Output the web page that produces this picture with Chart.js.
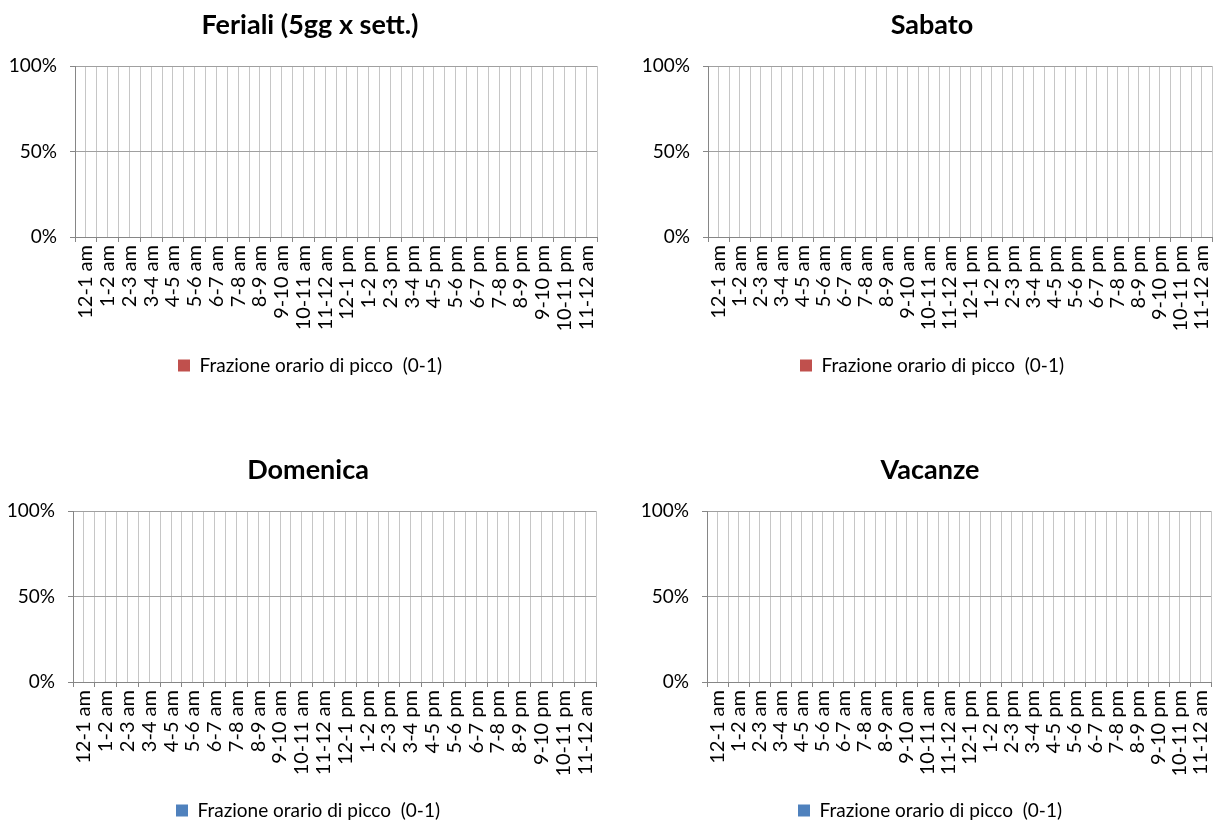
<!DOCTYPE html>
<html>
<head>
<meta charset="utf-8">
<script src="https://cdn.jsdelivr.net/npm/chart.js@4/dist/chart.umd.min.js"></script>
<style>
  html, body { margin: 0; padding: 0; background: #fff; overflow: hidden; width: 1217px; height: 822px; position: relative; }
  canvas { position: absolute; }
</style>
</head>
<body>
<canvas id="c0"></canvas>
<canvas id="c1"></canvas>
<canvas id="c2"></canvas>
<canvas id="c3"></canvas>
<script>
// Fasce orarie (asse delle categorie)
const fasceOrarie = ['12-1 am', '1-2 am', '2-3 am', '3-4 am', '4-5 am', '5-6 am', '6-7 am', '7-8 am',
  '8-9 am', '9-10 am', '10-11 am', '11-12 am', '12-1 pm', '1-2 pm', '2-3 pm', '3-4 pm', '4-5 pm',
  '5-6 pm', '6-7 pm', '7-8 pm', '8-9 pm', '9-10 pm', '10-11 pm', '11-12 am'];

// Tacche dell'asse verticale (frazione 0-1)
const tacchePercentuali = [0, 0.5, 1];

// Frazione orario di picco per fascia oraria
const feriali = [0, 0, 0, 0, 0, 0, 0, 0, 0, 0, 0, 0, 0, 0, 0, 0, 0, 0, 0, 0, 0, 0, 0, 0];
const sabato = [0, 0, 0, 0, 0, 0, 0, 0, 0, 0, 0, 0, 0, 0, 0, 0, 0, 0, 0, 0, 0, 0, 0, 0];
const domenica = [0, 0, 0, 0, 0, 0, 0, 0, 0, 0, 0, 0, 0, 0, 0, 0, 0, 0, 0, 0, 0, 0, 0, 0];
const vacanze = [0, 0, 0, 0, 0, 0, 0, 0, 0, 0, 0, 0, 0, 0, 0, 0, 0, 0, 0, 0, 0, 0, 0, 0];

const titoli = ['Feriali (5gg x sett.)', 'Sabato', 'Domenica', 'Vacanze'];
const nomeSerie = 'Frazione orario di picco  (0-1)';

const ROSSO = '#C0504D';
const BLU = '#4F81BD';
const ASSE = '#868686';
const GRIGLIA_H = '#a0a0a0';
const GRIGLIA_V = '#c6c6c6';
const FONT = 'Lato, "Open Sans", sans-serif';

// w: larghezza del canvas; yw: larghezza asse verticale; spazio: margine a destra dell'area del grafico
const pannelli = [
  { id: 'c0', left: 0,   top: 0,   w: 620, h: 385, yw: 75, spazio: 23, dati: feriali,  colore: ROSSO, titolo: titoli[0] },
  { id: 'c1', left: 608, top: 0,   w: 648, h: 385, yw: 100, spazio: 44, dati: sabato,   colore: ROSSO, titolo: titoli[1] },
  { id: 'c2', left: 0,   top: 445, w: 616, h: 385, yw: 73, spazio: 20, dati: domenica, colore: BLU,   titolo: titoli[2] },
  { id: 'c3', left: 608, top: 445, w: 644, h: 385, yw: 99, spazio: 41, dati: vacanze,  colore: BLU,   titolo: titoli[3] }
];

const LEGENDA_FONT = 19;
const LEGENDA_PAD = 10;
const PLOT_BOTTOM = 237;

pannelli.forEach(p => {
  const cv = document.getElementById(p.id);
  cv.width = p.w;
  cv.height = p.h;
  cv.style.left = p.left + 'px';
  cv.style.top = p.top + 'px';

  const legendaH = LEGENDA_FONT + LEGENDA_PAD + 10;
  const asseXH = p.h - legendaH - PLOT_BOTTOM;

  new Chart(cv, {
    type: 'bar',
    data: {
      labels: fasceOrarie,
      datasets: [{
        label: nomeSerie,
        data: p.dati,
        backgroundColor: p.colore,
        borderColor: p.colore,
        borderWidth: 0,
        xAxisID: 'x',
        yAxisID: 'y'
      }]
    },
    options: {
      responsive: false,
      animation: false,
      layout: { padding: 0 },
      plugins: {
        title: {
          display: true,
          text: p.titolo,
          color: '#000',
          font: { family: FONT, size: 27, weight: 'bold', lineHeight: 1.2 },
          padding: { top: 8.8, bottom: 24.8 }
        },
        legend: {
          display: true,
          position: 'bottom',
          labels: {
            color: '#000',
            font: { family: FONT, size: LEGENDA_FONT },
            boxWidth: 12,
            boxHeight: 12,
            padding: LEGENDA_PAD
          }
        },
        tooltip: { enabled: false }
      },
      scales: {
        x: {
          type: 'category',
          position: 'bottom',
          offset: true,
          grid: { offset: true, color: GRIGLIA_V, tickColor: ASSE, tickLength: 5, lineWidth: 1 },
          border: { color: ASSE, width: 1 },
          ticks: {
            autoSkip: false,
            minRotation: 90,
            maxRotation: 90,
            padding: 3,
            color: '#000',
            font: { family: FONT, size: 20 }
          },
          afterFit: s => { s.height = asseXH; }
        },
        // linee verticali al centro di ogni fascia oraria
        xc: {
          type: 'category',
          position: 'bottom',
          offset: true,
          grid: { offset: false, color: GRIGLIA_V, drawTicks: false, lineWidth: 1 },
          border: { display: false },
          ticks: { display: false },
          afterFit: s => { s.height = 0; }
        },
        y: {
          type: 'linear',
          position: 'left',
          min: tacchePercentuali[0],
          max: tacchePercentuali[tacchePercentuali.length - 1],
          afterBuildTicks: s => { s.ticks = tacchePercentuali.map(v => ({ value: v })); },
          grid: { color: GRIGLIA_H, tickColor: ASSE, tickLength: 5, lineWidth: 1 },
          border: { color: ASSE, width: 1 },
          ticks: {
            padding: 13,
            color: '#000',
            font: { family: FONT, size: 19 },
            callback: v => Math.round(v * 100) + '%'
          },
          afterFit: s => { s.width = p.yw; }
        },
        // margine destro dell'area del grafico
        yDestra: {
          type: 'linear',
          position: 'right',
          grid: { display: false, drawTicks: false },
          border: { display: false },
          ticks: { display: false },
          afterFit: s => { s.width = p.spazio; }
        }
      }
    }
  });
});
</script>
</body>
</html>
